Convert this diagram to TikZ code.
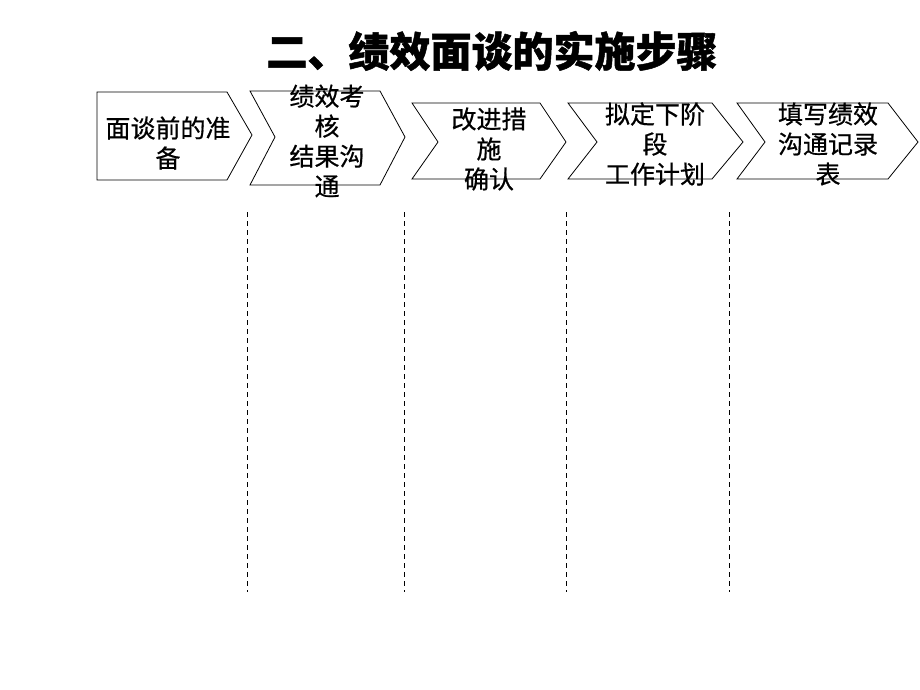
\documentclass[tikz,border=0pt]{standalone}
\usepackage{fontspec}
\newfontfamily\cjk[FakeBold=0.6]{Noto Sans CJK SC}
\newfontfamily\cjktitle[FakeBold=1.2]{Noto Sans CJK SC}
\begin{document}
\begin{tikzpicture}[x=1pt,y=-1pt,
  stepshape/.style={draw=black, line width=0.8pt, line join=miter},
  steptext/.style={font=\cjk\fontsize{25}{30}\selectfont, align=center, inner sep=0pt, text=black},
  divider/.style={draw=black, line width=0.9pt, dash pattern=on 5pt off 4pt}]
\useasboundingbox[fill=white] (0,0) rectangle (920,690);
% title
\node[font=\cjktitle\bfseries\fontsize{41}{44}\selectfont, inner sep=0pt] (title) at (492,51) {二、绩效面谈的实施步骤};
% step shapes
\draw[stepshape] (97,92) -- (227,92) -- (252,135) -- (227,180) -- (97,180) -- cycle;
\draw[stepshape] (250,91) -- (380,91) -- (405,137) -- (380,185) -- (250,185) -- (275,137) -- cycle;
\draw[stepshape] (412,103) -- (540,103) -- (566,142) -- (540,179) -- (412,179) -- (438,142) -- cycle;
\draw[stepshape] (568,103) -- (712,103) -- (743,142) -- (712,179) -- (568,179) -- (597,142) -- cycle;
\draw[stepshape] (737,103) -- (888,103) -- (918,142) -- (888,179) -- (737,179) -- (765,142) -- cycle;
% step texts
\node[steptext] (s1) at (168,143) {面谈前的准\\备};
\node[steptext] (s2) at (327,141) {绩效考\\核\\结果沟\\通};
\node[steptext] (s3) at (489,149) {改进措\\施\\确认};
\node[steptext] (s4) at (655,144) {拟定下阶\\段\\工作计划};
\node[steptext] (s5) at (828,144) {填写绩效\\沟通记录\\表};
% dividers
\coordinate (d1t) at (247,212); \coordinate (d1b) at (247,592);
\coordinate (d2t) at (404,212); \coordinate (d2b) at (404,592);
\coordinate (d3t) at (566,212); \coordinate (d3b) at (566,592);
\coordinate (d4t) at (729,212); \coordinate (d4b) at (729,592);
\draw[divider] (d1t) -- (d1b);
\draw[divider] (d2t) -- (d2b);
\draw[divider] (d3t) -- (d3b);
\draw[divider] (d4t) -- (d4b);
\end{tikzpicture}
\end{document}
